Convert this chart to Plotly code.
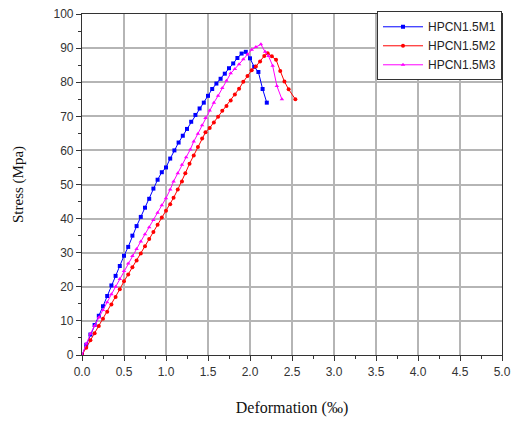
import plotly.graph_objects as go

m1_x = [0, 0.05, 0.1, 0.15, 0.2, 0.25, 0.3, 0.35, 0.4, 0.45, 0.5, 0.55, 0.6, 0.65, 0.7, 0.75, 0.8, 0.85,
        0.9, 0.95, 1.0, 1.05, 1.1, 1.15, 1.2, 1.25, 1.3, 1.35, 1.4, 1.45, 1.5, 1.55, 1.6, 1.65, 1.7,
        1.75, 1.8, 1.85, 1.9, 1.95, 2.0, 2.05, 2.1, 2.15, 2.2]
m1_y = [0, 3.0, 6.0, 8.8, 11.5, 14.3, 17.3, 20.4, 23.2, 26.1, 29.1, 31.7, 35.0, 37.8, 40.5, 43.2, 45.8, 48.8,
        51.4, 53.6, 55.0, 57.6, 60.0, 62.3, 64.3, 66.3, 68.4, 70.4, 72.3, 74.0, 76.0, 78.0, 79.6, 81.0, 82.5,
        84.1, 85.5, 87.1, 88.4, 88.9, 87.0, 84.5, 83.0, 78.0, 74.0]

m2_x = [0, 0.05, 0.1, 0.15, 0.2, 0.25, 0.3, 0.35, 0.4, 0.45, 0.5, 0.55, 0.6, 0.65, 0.7, 0.75, 0.8, 0.85,
        0.9, 0.95, 1.0, 1.05, 1.09, 1.14, 1.19, 1.23, 1.28, 1.33, 1.38, 1.43, 1.47, 1.52, 1.57, 1.62, 1.67,
        1.72, 1.77, 1.82, 1.87, 1.92, 1.97, 2.02, 2.07, 2.12, 2.17, 2.21, 2.26, 2.31, 2.36, 2.41, 2.46, 2.54]
m2_y = [0, 2.1, 4.3, 6.4, 8.5, 10.6, 12.7, 14.8, 17.0, 19.3, 21.6, 23.6, 25.7, 27.7, 29.8, 31.9, 34.0, 36.1,
        38.2, 40.3, 42.3, 44.2, 46.1, 48.5, 50.9, 53.3, 56.1, 58.5, 61.0, 63.5, 65.3, 66.6, 68.2, 69.9, 71.6,
        73.0, 74.6, 76.4, 78.1, 80.1, 81.8, 83.5, 84.6, 86.1, 87.7, 88.5, 87.6, 86.6, 83.3, 80.2, 77.9, 75.0]

m3_x = [0, 0.05, 0.1, 0.15, 0.2, 0.25, 0.3, 0.35, 0.4, 0.45, 0.5, 0.55, 0.6, 0.65, 0.7, 0.75, 0.8, 0.85,
        0.9, 0.95, 1.0, 1.05, 1.09, 1.14, 1.19, 1.24, 1.29, 1.33, 1.38, 1.43, 1.47, 1.52, 1.57, 1.62, 1.67,
        1.72, 1.77, 1.82, 1.87, 1.92, 1.97, 2.02, 2.07, 2.13, 2.18, 2.22, 2.27, 2.32, 2.38]
m3_y = [0, 3.4, 6.2, 8.6, 11.0, 13.2, 15.5, 17.8, 20.0, 22.3, 24.6, 26.8, 29.0, 31.1, 33.3, 35.4, 37.5, 39.6,
        41.7, 43.9, 46.0, 48.5, 50.9, 53.3, 55.8, 58.0, 60.3, 62.6, 64.9, 67.4, 69.5, 71.7, 74.0, 76.0, 78.3,
        80.4, 82.6, 83.9, 85.3, 86.7, 88.2, 89.5, 90.3, 91.1, 88.9, 87.7, 84.8, 78.9, 75.0]

names = ["HPCN1.5M1", "HPCN1.5M2", "HPCN1.5M3"]
colors = ["#0000ff", "#ff0000", "#ff00ff"]
symbols = ["square", "circle", "triangle-up"]

fig = go.Figure()
for name, xs, ys, c, s in zip(names, [m1_x, m2_x, m3_x], [m1_y, m2_y, m3_y], colors, symbols):
    fig.add_trace(go.Scatter(x=xs, y=ys, name=name, mode="lines+markers",
                             line=dict(color=c, width=1),
                             marker=dict(color=c, size=4, symbol=s)))

axis_common = dict(showline=True, linecolor="#333333", linewidth=1.2, mirror=True,
                   showgrid=True, gridcolor="#b5b5b5", gridwidth=1.5,
                   ticks="outside", ticklen=5, tickcolor="#333333",
                   tickfont=dict(family="Liberation Sans, Arial", size=12, color="#333333"),
                   zeroline=False, automargin=False)

fig.update_xaxes(range=[0, 5], dtick=0.5, tickformat=".1f",
                 minor=dict(dtick=0.25, ticks="outside", ticklen=3, tickcolor="#333333", showgrid=False),
                 title=dict(text="Deformation (‰)", font=dict(family="Liberation Serif, Times New Roman", size=16, color="#111111"),
                            standoff=24),
                 **axis_common)
fig.update_yaxes(range=[0, 100], dtick=10,
                 minor=dict(dtick=5, ticks="outside", ticklen=3, tickcolor="#333333", showgrid=False),
                 title=dict(text="Stress (Mpa)", font=dict(family="Liberation Serif, Times New Roman", size=15, color="#111111"),
                            standoff=26),
                 **axis_common)

fig.update_layout(width=517, height=423, autosize=False, margin=dict(l=82, r=15, t=13, b=68, pad=0),
                  paper_bgcolor="white", plot_bgcolor="white",
                  legend=dict(x=1, y=1.005, xanchor="right", yanchor="top",
                              bgcolor="white", bordercolor="#333333", borderwidth=1,
                              font=dict(family="Liberation Sans, Arial", size=12, color="#222222"),
                              tracegroupgap=0, itemwidth=40))

fig.write_html("out.html", config={"displayModeBar": False},
               post_script="document.body.style.margin='0px';document.body.style.overflow='hidden';")
